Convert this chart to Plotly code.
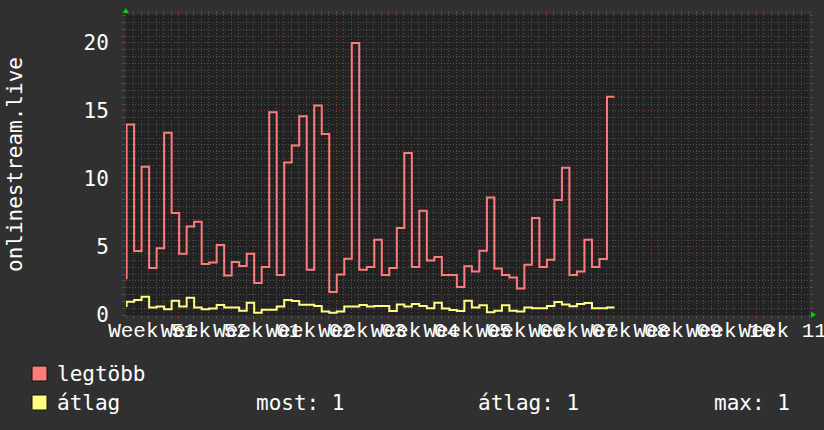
import plotly.graph_objects as go

# ---------------- data ----------------
WEEK_LABELS = ["Week 51", "Week 52", "Week 01", "Week 02", "Week 03", "Week 04",
               "Week 05", "Week 06", "Week 07", "Week 08", "Week 09", "Week 10", "Week 11"]

# daily maximum ("legtöbb"); first value is the partial sample before the first day boundary
MAX_VALUES = [2.7, 14.0, 4.7, 10.9, 3.46, 4.9, 13.4, 7.5, 4.5, 6.5, 6.86, 3.75, 3.85, 5.15,
              2.9, 3.9, 3.6, 4.5, 2.35, 3.53, 14.9, 2.94, 11.2, 12.45, 14.6, 3.33, 15.4,
              13.3, 1.69, 2.97, 4.14, 20.0, 3.33, 3.53, 5.54, 2.94, 3.46, 6.4, 11.9, 3.53,
              7.67, 4.0, 4.26, 2.94, 2.94, 2.06, 3.58, 3.19, 4.73, 8.63, 3.41, 2.94, 2.75,
              1.94, 3.7, 7.13, 3.53, 4.07, 8.46, 10.83, 2.94, 3.19, 5.54, 3.53, 4.12, 16.05]

# daily average ("átlag")
AVG_VALUES = [0.66, 0.98, 1.1, 1.35, 0.56, 0.63, 0.42, 1.05, 0.63, 1.27, 0.56, 0.42, 0.47,
              0.74, 0.56, 0.56, 0.32, 0.9, 0.17, 0.39, 0.39, 0.63, 1.1, 1.03, 0.76, 0.76,
              0.66, 0.25, 0.17, 0.25, 0.63, 0.63, 0.74, 0.63, 0.66, 0.66, 0.29, 0.78, 0.63,
              0.8, 0.66, 0.49, 0.9, 0.47, 0.37, 0.29, 1.05, 0.56, 0.71, 0.2, 0.32, 0.71,
              0.32, 0.25, 0.56, 0.49, 0.49, 0.66, 0.96, 0.78, 0.64, 0.8, 0.88, 0.49, 0.49, 0.56]

SERIES_NAMES = ["legtöbb", "átlag"]
STATS = ["most: 1", "átlag: 1", "max: 1"]
Y_TITLE = "onlinestream.live"

DAY_OFFSET = 0.08      # data step boundaries relative to week start (days)
N_DAYS = 91            # 13 weeks shown
Y_MAX = 22.05

# ---------------- layout constants ----------------
W, H = 824, 430
L, R, T, B = 126, 15, 15, 115
PW, PH = W - L - R, H - T - B

BG = "#303030"
PLOT_BG = "#222222"
RED = "#ff7c7c"
YEL = "#ffff80"
MAJ = "#7e3c3c"
MIN = "#505050"
FONT = "DejaVu Sans Mono"


def pxx(xp):
    return (xp - L) / PW


def pxy(yp):
    return (H - B - yp) / PH


def step_x(n):
    xs = [0.0] + [DAY_OFFSET + i for i in range(n - 1)]
    xs.append(DAY_OFFSET + n - 1)
    return xs


fig = go.Figure()
for vals, col, name in [(MAX_VALUES, RED, SERIES_NAMES[0]), (AVG_VALUES, YEL, SERIES_NAMES[1])]:
    fig.add_trace(go.Scatter(
        x=step_x(len(vals)), y=list(vals) + [vals[-1]],
        mode="lines", line=dict(color=col, width=2, shape="hv"),
        name=name, showlegend=False, hoverinfo="skip"))

# invisible trace on the label axis
fig.add_trace(go.Scatter(x=[0], y=[0], xaxis="x2", mode="markers",
                         marker=dict(opacity=0), showlegend=False, hoverinfo="skip"))

fig.update_layout(
    width=W, height=H,
    margin=dict(l=L, r=R, t=T, b=B, autoexpand=False),
    paper_bgcolor=BG, plot_bgcolor=PLOT_BG,
    font=dict(family=FONT, color="white", size=21),
    xaxis=dict(
        range=[0, N_DAYS], tick0=0, dtick=7, showticklabels=False, automargin=False,
        showgrid=True, gridcolor=MAJ, griddash="1px,2px", gridwidth=1,
        zeroline=False, showline=False,
        ticks="outside", ticklen=3, tickcolor=MAJ, mirror="ticks",
        minor=dict(dtick=1, showgrid=True, gridcolor=MIN, griddash="1px,2px",
                   ticks="outside", ticklen=3, tickcolor=MIN),
    ),
    xaxis2=dict(
        overlaying="x", anchor="y", side="bottom", range=[0, N_DAYS], automargin=False,
        tickmode="array", tickvals=[3.5 + 7 * i for i in range(len(WEEK_LABELS))],
        ticktext=WEEK_LABELS, showgrid=False, zeroline=False, ticks="", tickangle=0,
        tickfont=dict(family="Liberation Mono", size=21, color="white"),
        ticklabelstandoff=0, ticklabeloverflow="allow",
    ),
    yaxis=dict(
        range=[0, Y_MAX], tick0=0, dtick=5, automargin=False,
        showgrid=True, gridcolor=MAJ, griddash="1px,2px", gridwidth=1,
        zeroline=False, showline=False,
        ticks="outside", ticklen=3, tickcolor=MAJ, mirror="ticks",
        tickfont=dict(family=FONT, size=21, color="white"),
        ticklabelstandoff=9,
        minor=dict(dtick=0.5, showgrid=True, gridcolor=MIN, griddash="1px,2px",
                   ticks="outside", ticklen=3, tickcolor=MIN),
    ),
)

shapes = []
# axis arrows
shapes.append(dict(type="path", xref="paper", yref="paper",
                   path=f"M {pxx(122.5)} {pxy(13)} L {pxx(129)} {pxy(13)} L {pxx(125.7)} {pxy(8)} Z",
                   fillcolor="#00cc00", line=dict(width=0)))
shapes.append(dict(type="path", xref="paper", yref="paper",
                   path=f"M {pxx(811)} {pxy(311.5)} L {pxx(811)} {pxy(318)} L {pxx(816)} {pxy(314.7)} Z",
                   fillcolor="#00cc00", line=dict(width=0)))
# legend boxes
for yc, col in [(373.5, RED), (402.5, YEL)]:
    shapes.append(dict(type="rect", xref="paper", yref="paper",
                       x0=pxx(32), x1=pxx(47), y0=pxy(yc + 7.5), y1=pxy(yc - 7.5),
                       fillcolor=col, line=dict(color="#111111", width=1)))
fig.update_layout(shapes=shapes)

ann = []
ann.append(dict(text=Y_TITLE, xref="paper", yref="paper", x=pxx(15), y=pxy(165),
                textangle=-90, showarrow=False, xanchor="center", yanchor="middle",
                font=dict(family=FONT, size=21, color="white")))
ann.append(dict(text=SERIES_NAMES[0], xref="paper", yref="paper", x=pxx(55), y=pxy(373.5),
                showarrow=False, xanchor="left", yanchor="middle",
                font=dict(family=FONT, size=21, color="white")))
ann.append(dict(text=SERIES_NAMES[1], xref="paper", yref="paper", x=pxx(55), y=pxy(402.5),
                showarrow=False, xanchor="left", yanchor="middle",
                font=dict(family=FONT, size=21, color="white")))
for txt, xs in zip(STATS, [254, 476, 712]):
    ann.append(dict(text=txt, xref="paper", yref="paper", x=pxx(xs), y=pxy(402.5),
                    showarrow=False, xanchor="left", yanchor="middle",
                    font=dict(family=FONT, size=21, color="white")))
fig.update_layout(annotations=ann)

fig.write_html("out.html", config={"displayModeBar": False},
               post_script="document.body.style.margin='0';")
